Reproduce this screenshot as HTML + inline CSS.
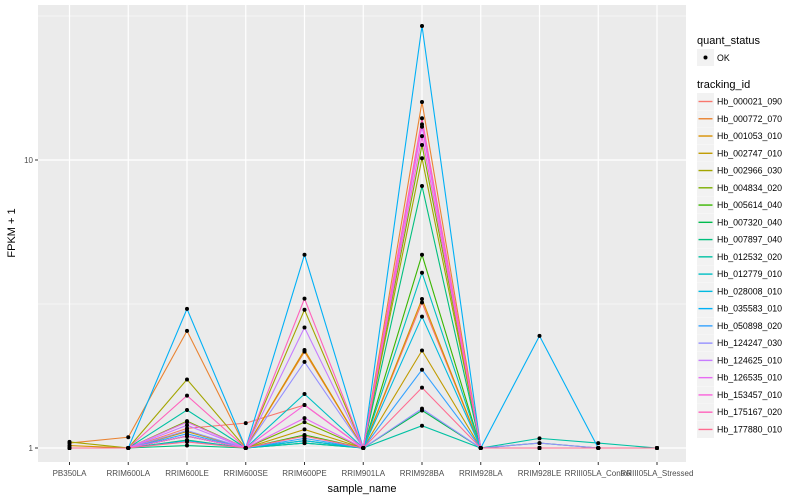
<!DOCTYPE html>
<html><head><meta charset="utf-8"><style>
body{margin:0;background:#fff;}
svg{display:block;font-family:"Liberation Sans",sans-serif;}
</style></head><body>
<svg id="chart" width="800" height="500" xmlns="http://www.w3.org/2000/svg">
<rect x="38" y="5" width="648" height="457" fill="#ebebeb"/>
<g id="grid"></g>
<g id="lines"></g>
<g id="points"></g>
<g id="xticks"></g>
<g id="yticks"></g>
<text x="362" y="492" font-size="11" text-anchor="middle" fill="#000">sample_name</text>
<text transform="translate(15,233) rotate(-90)" font-size="11" text-anchor="middle" fill="#000">FPKM + 1</text>
<g id="legend"></g>
</svg>
<script>
const samples = ["PB350LA","RRIM600LA","RRIM600LE","RRIM600SE","RRIM600PE","RRIM901LA","RRIM928BA","RRIM928LA","RRIM928LE","RRIII05LA_Control","RRIII05LA_Stressed"];
const trackingIds = ["Hb_000021_090","Hb_000772_070","Hb_001053_010","Hb_002747_010","Hb_002966_030","Hb_004834_020","Hb_005614_040","Hb_007320_040","Hb_007897_040","Hb_012532_020","Hb_012779_010","Hb_028008_010","Hb_035583_010","Hb_050898_020","Hb_124247_030","Hb_124625_010","Hb_126535_010","Hb_153457_010","Hb_175167_020","Hb_177880_010"];
const colors = ["#F8766D","#EA8331","#D89000","#C09B00","#A3A500","#7CAE00","#39B600","#00BB4E","#00BF7D","#00C1A3","#00BFC4","#00BAE0","#00B0F6","#35A2FF","#9590FF","#C77CFF","#E76BF3","#FA62DB","#FF62BC","#FF6C91"];
const s000021 = [1.0,1.0,1.17,1.22,1.41,1,3.2,1,1,1,1];
const s000772 = [1.04,1.09,2.55,1.0,2.16,1,15.9,1,1,1,1];
const s001053 = [1.02,1,1.1,1,2.19,1,3.29,1,1,1,1];
const s002747 = [1,1,1.14,1,1.16,1,2.18,1,1,1,1];
const s002966 = [1.05,1,1.73,1,3.02,1,10.14,1,1,1,1];
const s004834 = [1,1,1.24,1,1.23,1,11.27,1,1,1,1];
const s005614 = [1,1,1.1,1,1.11,1,4.69,1,1,1,1];
const s007320 = [1,1,1.066,1,1.06,1,1.35,1,1.04,1,1];
const s007897 = [1,1,1.02,1,1.04,1,8.12,1,1,1,1];
const s012532 = [1,1,1.355,1,1.04,1,1.195,1,1.08,1.04,1];
const s012779 = [1,1,1.1,1,1.54,1,4.06,1,1,1,1];
const s028008 = [1,1,1.06,1,1.06,1,2.86,1,1,1,1];
const s035583 = [1,1,3.04,1,4.69,1,29.2,1,2.45,1,1];
const s050898 = [1,1,1.12,1,1.08,1,1.87,1,1,1,1];
const s124247 = [1,1,1.15,1,1.99,1,1.37,1,1.04,1,1];
const s124625 = [1,1,1.2,1,2.62,1,13.05,1,1,1,1];
const s126535 = [1,1,1.23,1,1.27,1,13.3,1,1,1,1];
const s153457 = [1,1,1.1,1,1.41,1,12.1,1,1,1,1];
const s175167 = [1,1,1.52,1,3.3,1,13.96,1,1,1,1];
const s177880 = [1,1,1.05,1,1.1,1,1.62,1,1,1,1];
const series = [s000021,s000772,s001053,s002747,s002966,s004834,s005614,s007320,s007897,s012532,s012779,s028008,s035583,s050898,s124247,s124625,s126535,s153457,s175167,s177880];
const yMajor = [1,10];
const yMinor = [Math.sqrt(10), Math.sqrt(1000)];
const yLabels = ["1","10"];

const NS="http://www.w3.org/2000/svg";
function xs(i){return 69.5+58.75*i;}
function ys(v){return 448-288*Math.log10(v);}
function mk(tag,attrs,parent){const e=document.createElementNS(NS,tag);for(const k in attrs)e.setAttribute(k,attrs[k]);parent.appendChild(e);return e;}
const grid=document.getElementById('grid');
yMinor.forEach(v=>{const l=mk('line',{x1:38,x2:686,y1:ys(v),y2:ys(v),stroke:'#fff','stroke-width':0.6},grid);

});
yMajor.forEach((v,i)=>{const l=mk('line',{x1:38,x2:686,y1:ys(v),y2:ys(v),stroke:'#fff','stroke-width':1.2},grid);


const yt=document.getElementById('yticks');
const t=mk('line',{x1:35,x2:38,y1:ys(v),y2:ys(v),stroke:'#333','stroke-width':1},yt);


const tx=mk('text',{x:33,y:ys(v)+3,'font-size':8,'text-anchor':'end',fill:'#4d4d4d'},yt);
tx.textContent=yLabels[i];

});
const xt=document.getElementById('xticks');
samples.forEach((s,i)=>{const l=mk('line',{x1:xs(i),x2:xs(i),y1:5,y2:462,stroke:'#fff','stroke-width':1.2},grid);


const t=mk('line',{x1:xs(i),x2:xs(i),y1:462,y2:465,stroke:'#333'},xt);


const tx=mk('text',{x:xs(i),y:476,'font-size':8,'text-anchor':'middle',fill:'#4d4d4d'},xt);
tx.textContent=s;

});
const lg=document.getElementById('lines'),pg=document.getElementById('points');
series.forEach((vals,si)=>{const p=mk('polyline',{points:vals.map((v,i)=>xs(i)+','+ys(v)).join(' '),fill:'none',stroke:colors[si],'stroke-width':1.1},lg);


vals.forEach((v,i)=>{const c=mk('circle',{cx:xs(i),cy:ys(v),r:2,fill:'#000'},pg);

});});
const leg=document.getElementById('legend');
let t=mk('text',{x:697,y:44,'font-size':11,fill:'#000'},leg);t.textContent='quant_status';


let r=mk('rect',{x:697,y:49,width:17,height:17,fill:'#f2f2f2'},leg);


let c=mk('circle',{cx:705.5,cy:57.5,r:2,fill:'#000'},leg);


t=mk('text',{x:717,y:61,'font-size':8.8,fill:'#000'},leg);t.textContent='OK';


t=mk('text',{x:697,y:88,'font-size':11,fill:'#000'},leg);t.textContent='tracking_id';


trackingIds.forEach((id,i)=>{const y=93+17.26*i;
const b=mk('rect',{x:697,y:y,width:17,height:17,fill:'#f2f2f2'},leg);


const l=mk('line',{x1:698.5,x2:712.5,y1:y+8.5,y2:y+8.5,stroke:colors[i],'stroke-width':1.4},leg);


const tx=mk('text',{x:717,y:y+11.5,'font-size':8.8,fill:'#000'},leg);tx.textContent=id;

});
</script>
</body></html>
